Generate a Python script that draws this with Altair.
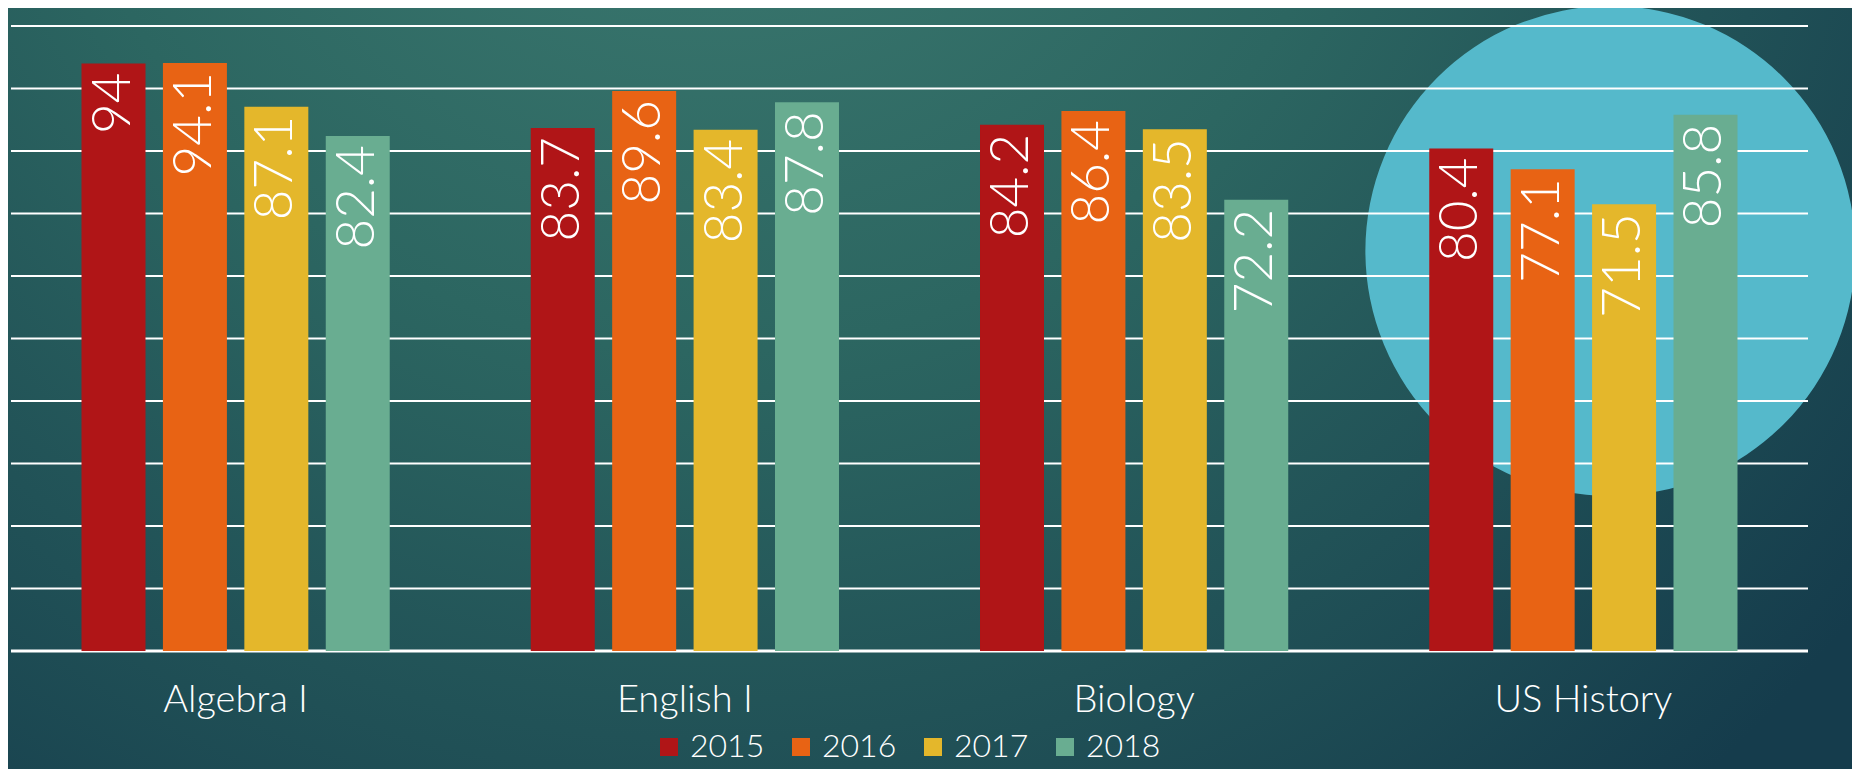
import altair as alt
import pandas as pd

subjects = ["Algebra I", "English I", "Biology", "US History"]
years = ["2015", "2016", "2017", "2018"]
scores_2015 = [94, 83.7, 84.2, 80.4]
scores_2016 = [94.1, 89.6, 86.4, 77.1]
scores_2017 = [87.1, 83.4, 83.5, 71.5]
scores_2018 = [82.4, 87.8, 72.2, 85.8]
grid_values = [10, 20, 30, 40, 50, 60, 70, 80, 90, 100]
highlight_subject = "US History"

colors = ["#B01517", "#E86314", "#E4B72B", "#69AD91"]
FONT = "Lato"

rows = []
for yr, vals in zip(years, [scores_2015, scores_2016, scores_2017, scores_2018]):
    for s, v in zip(subjects, vals):
        rows.append({"subject": s, "year": yr, "score": v, "label": f"{v:g}"})
df = pd.DataFrame(rows)

W, H = 1797, 625

axis_x = alt.Axis(title=None, domain=False, ticks=False, tickSize=0, grid=False,
                  labelAngle=0, labelFontSize=38, labelColor="white", labelFont=FONT,
                  labelFontWeight=300, labelPadding=49, labelBaseline="middle",
                  zindex=1)
x_enc = alt.X("subject:N", sort=subjects,
              scale=alt.Scale(domain=subjects, paddingInner=0, paddingOuter=0),
              axis=axis_x)
y_scale = alt.Scale(domain=[0, 100], nice=False, zero=True)

bg = alt.Chart(alt.Data(values=[{}])).mark_rect(
    fill={"gradient": "radial", "x1": 0.38, "y1": 0.12, "r1": 0,
          "x2": 0.38, "y2": 0.12, "r2": 0.8,
          "stops": [{"offset": 0, "color": "#3F7D73"},
                    {"offset": 0.45, "color": "#2C6661"},
                    {"offset": 1, "color": "#153C4C"}]}
).encode(x=alt.value(-3), x2=alt.value(1841), y=alt.value(-18), y2=alt.value(744))

circle = alt.Chart(alt.Data(values=[{"subject": highlight_subject}])).mark_circle(
    color="#55B9CB", opacity=1, size=240100, xOffset=27
).encode(x=x_enc, y=alt.value(225))

grid = alt.Chart(pd.DataFrame({"g": grid_values})).mark_rule(
    color="white", strokeWidth=2
).encode(y=alt.Y("g:Q", scale=y_scale, axis=None))

baseline = alt.Chart(pd.DataFrame({"g": [0]})).mark_rule(
    color="white", strokeWidth=3
).encode(y=alt.Y("g:Q", scale=y_scale, axis=None))

xoff = alt.XOffset("year:N", sort=years,
                   scale=alt.Scale(paddingInner=0.214, paddingOuter=0.866))

bars = alt.Chart(df).mark_bar().encode(
    x=x_enc,
    xOffset=xoff,
    y=alt.Y("score:Q", scale=y_scale, axis=None),
    color=alt.Color("year:N", sort=years,
                    scale=alt.Scale(domain=years, range=colors),
                    legend=alt.Legend(title=None, orient="none", legendX=642, legendY=705,
                                      direction="horizontal", symbolType="square",
                                      symbolSize=324, symbolStrokeWidth=0,
                                      symbolOpacity=1, labelFontSize=32,
                                      labelColor="white", labelFont=FONT,
                                      labelFontWeight=300, columnPadding=20,
                                      labelOffset=5, padding=0)),
)

labels = alt.Chart(df).mark_text(
    angle=270, align="right", baseline="middle", dx=-9,
    fontSize=53, font=FONT, fontWeight=300, color="white"
).encode(
    x=x_enc,
    xOffset=xoff,
    y=alt.Y("score:Q", scale=y_scale, axis=None),
    text="label:N",
)

chart = alt.layer(bg, circle, grid, baseline, bars, labels).properties(
    width=W, height=H,
    autosize=alt.AutoSizeParams(type="none"),
    padding={"left": 3, "top": 18, "right": 44, "bottom": 118},
).configure_view(strokeWidth=0).configure(background="#1E4C58")

chart.save("out.html", embed_options={"renderer": "svg", "actions": False})
